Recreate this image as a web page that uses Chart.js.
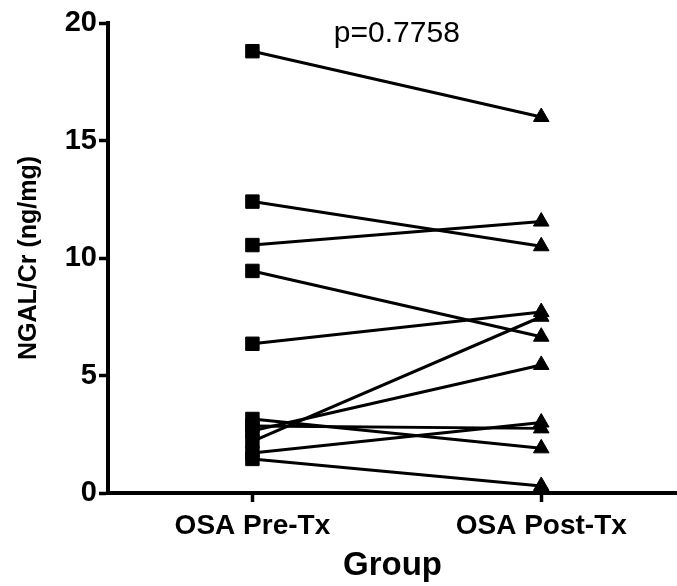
<!DOCTYPE html>
<html><head><meta charset="utf-8">
<script src="https://cdn.jsdelivr.net/npm/chart.js@4/dist/chart.umd.min.js"></script>
<style>html,body{margin:0;padding:0;background:#fff}#wrap{width:677px;height:586px}</style>
</head><body><div id="wrap"><canvas id="c" width="677" height="586"></canvas></div>
<script>
const categories = ['OSA Pre-Tx', 'OSA Post-Tx'];
const preTx  = [18.8, 12.4, 10.55, 9.45, 6.35, 3.15, 2.85, 2.65, 2.2, 1.7, 1.45];
const postTx = [16.0, 10.5, 11.55, 6.65, 7.7, 1.9, 2.75, 5.45, 7.5, 3.0, 0.3];
const yTicks = [0, 5, 10, 15, 20];
const pValueText = 'p=0.7758';
const yTitle = 'NGAL/Cr (ng/mg)';
const xTitle = 'Group';

const FONT = '"Liberation Sans", Arial, Helvetica, sans-serif';

const datasets = preTx.map((v, i) => ({
  data: [{x: 0, y: v}, {x: 1, y: postTx[i]}],
  borderColor: '#000',
  backgroundColor: '#000',
  borderWidth: 3,
  pointStyle: ['rect', 'triangle'],
  pointRadius: [9.5, 9],
  pointBorderWidth: 1,
  pointBackgroundColor: '#000',
  pointBorderColor: '#000',
  tension: 0,
  clip: false,
  fill: false
}));

const pPlugin = {
  id: 'pval',
  afterDatasetsDraw(chart) {
    const {ctx, scales: {x, y}} = chart;
    ctx.save();
    ctx.font = '30px ' + FONT;
    ctx.fillStyle = '#000';
    ctx.textAlign = 'center';
    ctx.textBaseline = 'middle';
    ctx.fillText(pValueText, x.getPixelForValue(0.5), y.getPixelForValue(19.55));
    ctx.restore();
  }
};

new Chart(document.getElementById('c'), {
  type: 'line',
  data: {datasets},
  plugins: [pPlugin],
  options: {
    responsive: false,
    animation: false,
    events: [],
    layout: {autoPadding: false, padding: {top: 23, right: 0, left: 0, bottom: 0}},
    plugins: {legend: {display: false}, tooltip: {enabled: false}, title: {display: false}},
    scales: {
      x: {
        type: 'linear',
        min: -0.5,
        max: 1.47,
        afterBuildTicks(s) { s.ticks = categories.map((c, i) => ({value: i})); },
        afterFit(s) { s.height = 93; s.paddingLeft = 0; s.paddingRight = 0; },
        ticks: {
          callback: v => categories[v],
          color: '#000',
          font: {family: FONT, size: 28, weight: 'bold'},
          padding: 7,
          maxRotation: 0,
          autoSkip: false
        },
        grid: {display: true, drawOnChartArea: false, drawTicks: true, tickLength: 9, tickWidth: 3.5, color: '#000'},
        border: {display: true, width: 4, color: '#000'},
        title: {display: true, text: xTitle, color: '#000', font: {family: FONT, size: 33, weight: 'bold'}, padding: {top: 0, bottom: 0}}
      },
      y: {
        min: 0,
        max: 20,
        afterBuildTicks(s) { s.ticks = yTicks.map(v => ({value: v})); },
        afterFit(s) { s.width = 108; s.paddingTop = 0; s.paddingBottom = 0; },
        ticks: {
          color: '#000',
          font: {family: FONT, size: 29, weight: 'bold'},
          padding: 2
        },
        grid: {display: true, drawOnChartArea: false, drawTicks: true, tickLength: 9, tickWidth: 3.5, color: '#000'},
        border: {display: true, width: 4, color: '#000'},
        title: {display: true, text: yTitle, color: '#000', font: {family: FONT, size: 25, weight: 'bold'}, padding: {top: 14, bottom: 0}}
      }
    }
  }
});
</script>
</body></html>
